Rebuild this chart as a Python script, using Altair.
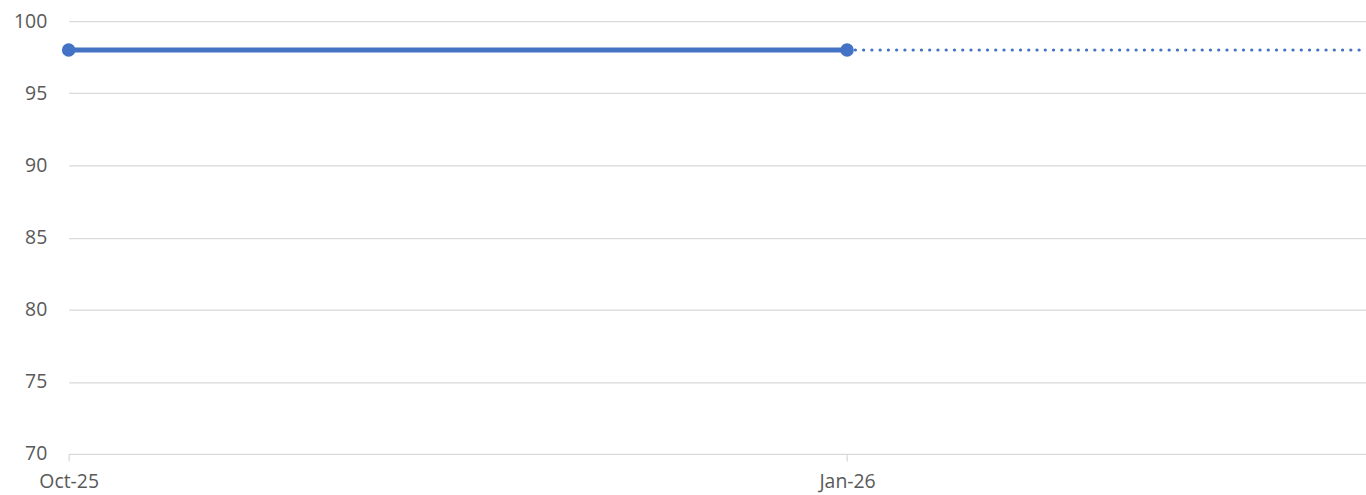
import altair as alt
import pandas as pd

months = ["Oct-25", "Nov-25", "Dec-25", "Jan-26", "Feb-26", "Mar-26"]
tick_months = ["Oct-25", "Jan-26"]

actual_months = ["Oct-25", "Jan-26"]
actual_values = [98, 98]

forecast_months = ["Jan-26", "Mar-26"]
forecast_values = [98, 98]

actual = pd.DataFrame({
    "idx": [months.index(m) for m in actual_months],
    "month": actual_months,
    "value": actual_values,
})
forecast = pd.DataFrame({
    "idx": [months.index(m) for m in forecast_months],
    "month": forecast_months,
    "value": forecast_values,
})

label_expr = "[" + ",".join(f"'{m}'" for m in months) + "][datum.value]"

FONT = "Open Sans"
BLUE = "#4472C4"
GRID = "#D9D9D9"
LABEL = "#595959"
FS = 19.5

x_enc = alt.X(
    "idx:Q",
    scale=alt.Scale(domain=[0, len(months) - 1], nice=False, zero=False),
    axis=alt.Axis(
        values=[months.index(m) for m in tick_months],
        labelExpr=label_expr,
        title=None,
        grid=False,
        domain=False,
        ticks=True,
        tickColor=GRID,
        tickSize=7,
        tickWidth=1.3,
        labelPadding=12,
        labelFlush=False,
        labelOverlap=False,
        labelBound=False,
        labelFont=FONT,
        labelFontSize=FS,
        labelColor=LABEL,
    ),
)
y_enc = alt.Y(
    "value:Q",
    scale=alt.Scale(domain=[70, 100], nice=False, zero=False),
    axis=alt.Axis(
        values=[70, 75, 80, 85, 90, 95, 100],
        title=None,
        grid=True,
        gridColor=GRID,
        gridWidth=1.3,
        domain=False,
        ticks=False,
        labelPadding=22,
        labelFlush=False,
        labelOverlap=False,
        labelFont=FONT,
        labelFontSize=FS,
        labelColor=LABEL,
    ),
)

solid = alt.Chart(actual).mark_line(color=BLUE, strokeWidth=5).encode(x=x_enc, y=y_enc)
points = alt.Chart(actual).mark_point(filled=True, color=BLUE, size=185, opacity=1).encode(x=x_enc, y=y_enc)
dotted = alt.Chart(forecast).mark_line(
    color=BLUE, strokeWidth=3.2, strokeDash=[0.1, 8.2], strokeCap="round"
).encode(x=x_enc, y=y_enc)

chart = (
    alt.layer(dotted, solid, points)
    .properties(
        width=1304,
        height=435,
        padding={"left": 69, "top": 20, "right": 0, "bottom": 40},
        autosize=alt.AutoSizeParams(type="none"),
        background="white",
    )
    .configure_view(stroke=None)
)

chart.save("out.html", embed_options={"renderer": "svg", "actions": False})
